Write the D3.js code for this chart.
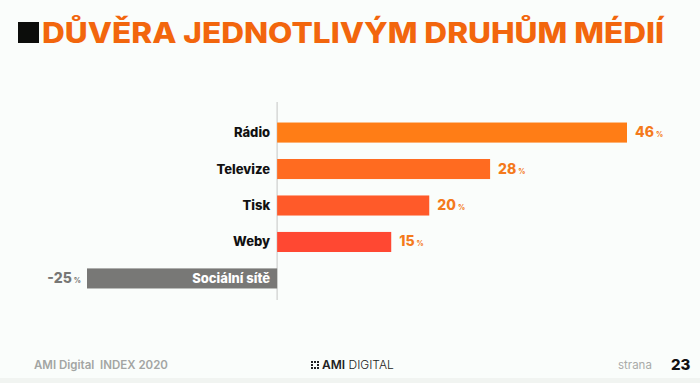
<!DOCTYPE html>
<html><head><meta charset="utf-8">
<script src="https://cdn.jsdelivr.net/npm/d3@7/dist/d3.min.js"></script>
<style>
html,body{margin:0;padding:0;background:#fafdfb;}
svg{display:block;font-family:Inter, "Open Sans", sans-serif;}
</style></head>
<body><svg id="c" width="700" height="383"></svg>
<script>
const categories = ["Rádio","Televize","Tisk","Weby","Sociální sítě"];
const values = [46, 28, 20, 15, -25];
const colors = ["#ff7d16","#ff6b20","#ff5a29","#ff4832","#787876"];
const title = "DŮVĚRA JEDNOTLIVÝM DRUHŮM MÉDIÍ";

const svg = d3.select("#c");
svg.append("rect").attr("x",0).attr("y",0).attr("width",700).attr("height",383).attr("fill","#fafdfb");
svg.append("rect").attr("x",0).attr("y",378).attr("width",700).attr("height",5).attr("fill","#f1f4f1");

// title
svg.append("rect").attr("x",18).attr("y",22).attr("width",21).attr("height",21).attr("fill","#0c0d0b");
svg.append("text").attr("x",42).attr("y",43).text(title)
  .attr("font-size",28).attr("font-weight",800).attr("fill","#f2660d")
  .attr("textLength",622).attr("lengthAdjust","spacingAndGlyphs");

const x = d3.scaleLinear().domain([-25,46]).range([87,627]);
const y = d3.scaleBand().domain(categories).range([114.5,296.5]).paddingInner(0.45).paddingOuter(0.22);

// zero axis
svg.append("line").attr("x1",x(0)).attr("x2",x(0)).attr("y1",102).attr("y2",300)
  .attr("stroke","#d6d8d6").attr("stroke-width",1.5);

const g = svg.append("g");
categories.forEach((c,i)=>{
  const v = values[i];
  const y0 = y(c), h = y.bandwidth();
  g.append("rect").attr("x",Math.min(x(0),x(v))).attr("y",y0)
    .attr("width",Math.abs(x(v)-x(0))).attr("height",h).attr("fill",colors[i]);
  const cy = y0 + h/2 + 4.5;
  if(v>=0){
    g.append("text").attr("x",x(0)-7).attr("y",cy).attr("text-anchor","end")
      .attr("font-size",13).attr("font-weight",800).attr("fill","#111").text(c);
    const t = g.append("text").attr("x",x(v)+8).attr("y",cy)
      .attr("font-size",14).attr("font-weight",800).attr("fill","#f47a1c");
    t.append("tspan").text(v);
    t.append("tspan").attr("font-size",7).attr("dx",2).text("%");
  } else {
    g.append("text").attr("x",x(0)-7).attr("y",cy).attr("text-anchor","end")
      .attr("font-size",13).attr("font-weight",800).attr("fill","#fff").text(c);
    const t = g.append("text").attr("x",x(v)-6).attr("y",cy).attr("text-anchor","end")
      .attr("font-size",14).attr("font-weight",800).attr("fill","#777775");
    t.append("tspan").text("-" + Math.abs(v));
    t.append("tspan").attr("font-size",7).attr("dx",2).text("%");
  }
});

// footer
svg.append("text").attr("x",34).attr("y",369).attr("font-size",11.5).attr("font-weight",600)
  .attr("fill","#a3a5a3").text("AMI Digital  INDEX 2020").attr("xml:space","preserve");
const dots = svg.append("g");
[[0,0],[1,0],[2,0],[0,1],[2,1],[0,2],[1,2],[2,2]].forEach(([a,b])=>{
  dots.append("rect").attr("x",311+a*3).attr("y",361+b*3).attr("width",2).attr("height",2).attr("fill","#222");
});
const ami = svg.append("text").attr("x",322).attr("y",369).attr("font-size",12).attr("fill","#222");
ami.append("tspan").attr("font-weight",600).text("AMI");
ami.append("tspan").attr("font-weight",300).text(" DIGITAL");
svg.append("text").attr("x",618).attr("y",369).attr("font-size",11.5).attr("fill","#a9aba9").text("strana");
svg.append("text").attr("x",671).attr("y",370).attr("font-size",15).attr("font-weight",800).attr("fill","#111").text("23");
</script></body></html>
